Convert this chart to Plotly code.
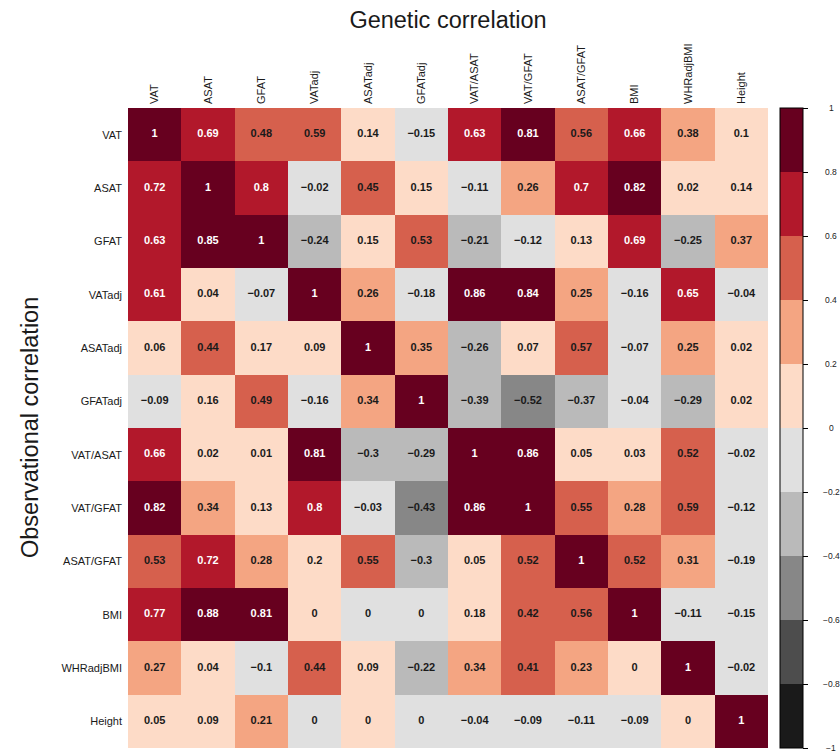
import numpy as np
import plotly.graph_objects as go

# Trait names (rows: observational, columns: genetic)
traits = ["VAT", "ASAT", "GFAT", "VATadj", "ASATadj", "GFATadj",
          "VAT/ASAT", "VAT/GFAT", "ASAT/GFAT", "BMI", "WHRadjBMI", "Height"]

# Correlation matrix, one list per row trait
r_vat = [1, 0.69, 0.48, 0.59, 0.14, -0.15, 0.63, 0.81, 0.56, 0.66, 0.38, 0.1]
r_asat = [0.72, 1, 0.8, -0.02, 0.45, 0.15, -0.11, 0.26, 0.7, 0.82, 0.02, 0.14]
r_gfat = [0.63, 0.85, 1, -0.24, 0.15, 0.53, -0.21, -0.12, 0.13, 0.69, -0.25, 0.37]
r_vatadj = [0.61, 0.04, -0.07, 1, 0.26, -0.18, 0.86, 0.84, 0.25, -0.16, 0.65, -0.04]
r_asatadj = [0.06, 0.44, 0.17, 0.09, 1, 0.35, -0.26, 0.07, 0.57, -0.07, 0.25, 0.02]
r_gfatadj = [-0.09, 0.16, 0.49, -0.16, 0.34, 1, -0.39, -0.52, -0.37, -0.04, -0.29, 0.02]
r_vat_asat = [0.66, 0.02, 0.01, 0.81, -0.3, -0.29, 1, 0.86, 0.05, 0.03, 0.52, -0.02]
r_vat_gfat = [0.82, 0.34, 0.13, 0.8, -0.03, -0.43, 0.86, 1, 0.55, 0.28, 0.59, -0.12]
r_asat_gfat = [0.53, 0.72, 0.28, 0.2, 0.55, -0.3, 0.05, 0.52, 1, 0.52, 0.31, -0.19]
r_bmi = [0.77, 0.88, 0.81, 0.003, -0.003, -0.003, 0.18, 0.42, 0.56, 1, -0.11, -0.15]
r_whradjbmi = [0.27, 0.04, -0.1, 0.44, 0.09, -0.22, 0.34, 0.41, 0.23, 0.003, 1, -0.02]
r_height = [0.05, 0.09, 0.21, -0.003, 0.003, -0.003, -0.04, -0.09, -0.11, -0.09, 0.003, 1]

rows = [r_vat, r_asat, r_gfat, r_vatadj, r_asatadj, r_gfatadj,
        r_vat_asat, r_vat_gfat, r_asat_gfat, r_bmi, r_whradjbmi, r_height]

# Colorbar ticks
cbar_ticks = [-1, -0.8, -0.6, -0.4, -0.2, 0, 0.2, 0.4, 0.6, 0.8, 1]

# Ten discrete bands from -1 to 1 (RdGy)
band_colors = ["#1A1A1A", "#4D4D4D", "#878787", "#BABABA", "#E0E0E0",
               "#FDDBC7", "#F4A582", "#D6604D", "#B2182B", "#67001F"]

vals = np.array(rows, dtype=float)
edges = np.round(np.linspace(-1, 1, 11), 10)
# right-closed bins (a, b]
bins = np.clip(np.digitize(vals, edges, right=True) - 1, 0, 9)
z_binned = -0.9 + 0.2 * bins

colorscale = []
for i, c in enumerate(band_colors):
    colorscale.append([i / 10, c])
    colorscale.append([(i + 1) / 10, c])


def fmt(v):
    v = round(float(v), 2) + 0.0
    if v == 0:
        return "0"
    s = f"{v:.2f}".rstrip("0").rstrip(".")
    return s.replace("-", "\u2212")


def fmt_tick(v):
    s = f"{v:g}"
    return s.replace("-", "\u2212")


# Plot-area geometry in pixels
W, H = 840, 752
ML, MR, MT, MB = 128, 72, 108, 4
PW = W - ML - MR
CB_LEFT = 780
CB_LABEL_CENTER = 831

fig = go.Figure()

fig.add_trace(go.Heatmap(
    z=z_binned,
    x=traits,
    y=traits,
    customdata=vals,
    hovertemplate="%{y} / %{x}: %{customdata:.2f}<extra></extra>",
    colorscale=colorscale,
    zmin=-1, zmax=1,
    xgap=0, ygap=0,
    colorbar=dict(
        x=(CB_LEFT - ML) / PW, xanchor="left", xpad=0,
        y=0.5, yanchor="middle", len=1, lenmode="fraction", ypad=0,
        thickness=23, thicknessmode="pixels",
        outlinewidth=1, outlinecolor="black",
        tickvals=cbar_ticks,
        ticks="outside", ticklen=5, tickcolor="black",
        showticklabels=False,
    ),
))

# Cell labels
tx, ty, tt, tc = [], [], [], []
for i, rname in enumerate(traits):
    for j, cname in enumerate(traits):
        tx.append(cname)
        ty.append(rname)
        tt.append(fmt(vals[i, j]))
        b = bins[i, j]
        tc.append("white" if (b >= 8 or b <= 1) else "#1a1a1a")

fig.add_trace(go.Scatter(
    x=tx, y=ty, text=tt, mode="text",
    textfont=dict(color=tc, size=11, weight="bold",
                  family="Liberation Sans, Arial, sans-serif"),
    hoverinfo="skip", showlegend=False,
))

# Centred colorbar tick labels (colorbar spans zmin..zmax over the full plot height)
annotations = [dict(
    text=fmt_tick(t),
    x=(CB_LABEL_CENTER - ML) / PW, xref="paper", xanchor="center",
    y=(t + 1) / 2, yref="paper", yanchor="middle",
    showarrow=False,
    font=dict(size=8.5, color="#222222"),
) for t in cbar_ticks]

annotations.append(dict(
    text="Observational correlation",
    textangle=-90,
    x=(30 - ML) / PW, xref="paper", xanchor="center",
    y=0.5, yref="paper", yanchor="middle",
    showarrow=False,
    font=dict(size=23.5, color="#1a1a1a"),
))

n = len(traits)
fig.update_layout(
    width=W, height=H,
    margin=dict(l=ML, r=MR, t=MT, b=MB, autoexpand=False),
    paper_bgcolor="white",
    plot_bgcolor="white",
    font=dict(family="Liberation Sans, Arial, sans-serif", color="#1a1a1a"),
    title=dict(
        text="Genetic correlation",
        x=0.5, xref="paper", xanchor="center",
        y=1 - 20 / H, yref="container", yanchor="middle",
        font=dict(size=23.5, color="#1a1a1a"),
    ),
    xaxis=dict(
        side="top", tickangle=-90, ticks="", showgrid=False, zeroline=False,
        showline=False, tickfont=dict(size=11), categoryorder="array",
        categoryarray=traits, ticklabelstandoff=3, automargin=False,
        range=[-0.5, n - 0.5],
    ),
    yaxis=dict(
        ticks="", showgrid=False, zeroline=False,
        showline=False, tickfont=dict(size=11), categoryorder="array",
        categoryarray=traits, ticklabelstandoff=5, automargin=False,
        range=[n - 0.5, -0.5],
    ),
    annotations=annotations,
)

fig.write_html("out.html")
